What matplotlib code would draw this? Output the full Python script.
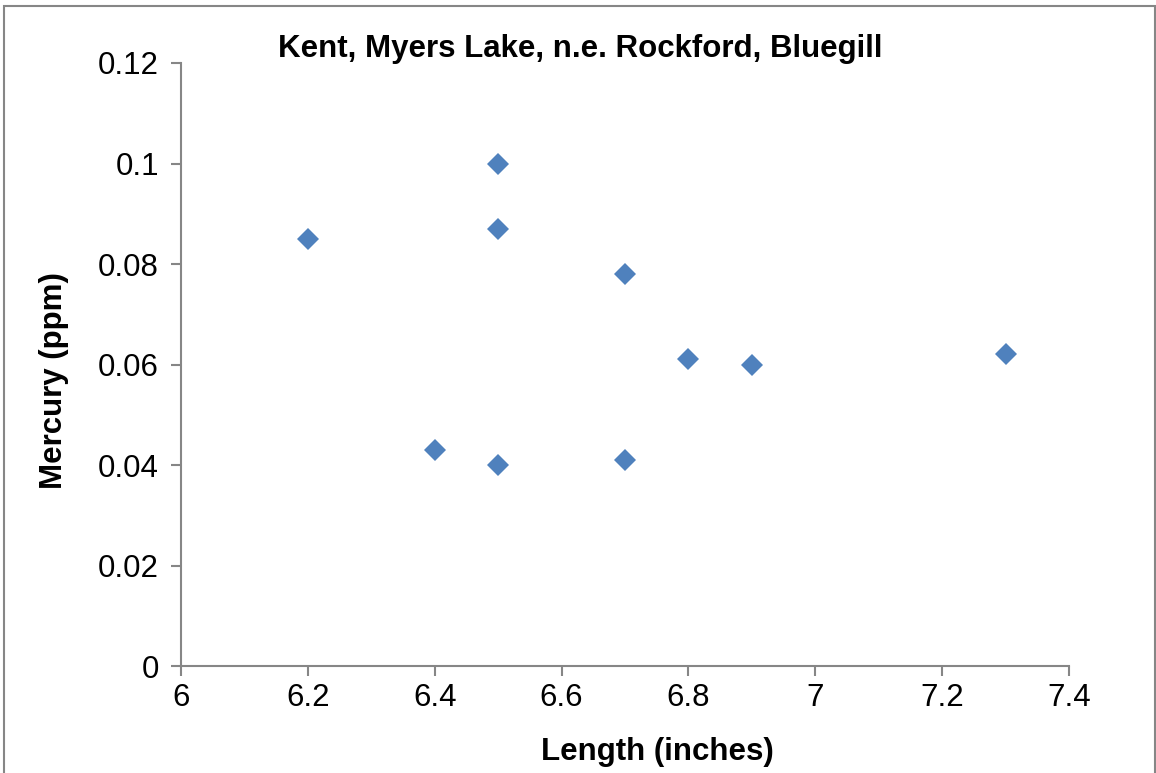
import matplotlib.pyplot as plt
from matplotlib.patches import Rectangle

plt.rcParams['font.family'] = ['Liberation Sans', 'DejaVu Sans']

length = [6.2, 6.4, 6.5, 6.5, 6.5, 6.7, 6.7, 6.8, 6.9, 7.3]
mercury = [0.085, 0.043, 0.100, 0.087, 0.040, 0.078, 0.041, 0.061, 0.060, 0.062]
x_ticks = [6, 6.2, 6.4, 6.6, 6.8, 7, 7.2, 7.4]
x_labels = ['6', '6.2', '6.4', '6.6', '6.8', '7', '7.2', '7.4']
y_ticks = [0, 0.02, 0.04, 0.06, 0.08, 0.1, 0.12]
y_labels = ['0', '0.02', '0.04', '0.06', '0.08', '0.1', '0.12']

fig = plt.figure(figsize=(11.56, 7.73), dpi=100)
ax = fig.add_axes([0.1566, 0.1384, 0.7682, 0.7801])

ax.plot(length, mercury, linestyle='none', marker='D', markersize=11,
        color='#4F81BD', markeredgewidth=0)

ax.set_xlim(6, 7.4)
ax.set_ylim(0, 0.12)
ax.set_xticks(x_ticks)
ax.set_xticklabels(x_labels)
ax.set_yticks(y_ticks)
ax.set_yticklabels(y_labels)

gray = '#868686'
for s in ['top', 'right']:
    ax.spines[s].set_visible(False)
for s in ['left', 'bottom']:
    ax.spines[s].set_color(gray)
    ax.spines[s].set_linewidth(1.5)
ax.tick_params(direction='out', length=7, width=1.5, color=gray,
               labelsize=22.5)
ax.tick_params(axis='x', pad=5)
ax.tick_params(axis='y', pad=9)

ax.set_xlabel('Length (inches)', fontsize=22.5, fontweight='bold', va='center')
ax.set_ylabel('Mercury (ppm)', fontsize=22.5, fontweight='bold', va='center')
ax.xaxis.set_label_coords(0.536, -0.1426)
ax.yaxis.set_label_coords(-0.1430, 0.474)
fig.text(0.502, 0.937, 'Kent, Myers Lake, n.e. Rockford, Bluegill',
         ha='center', va='center', fontsize=22.5, fontweight='bold')

fig.patches.append(Rectangle((4 / 1156, -0.05), 1151 / 1156, 1.05 - 6 / 773,
                             transform=fig.transFigure, fill=False,
                             edgecolor=gray, linewidth=1.5))

fig.savefig('out.png', dpi=100)
